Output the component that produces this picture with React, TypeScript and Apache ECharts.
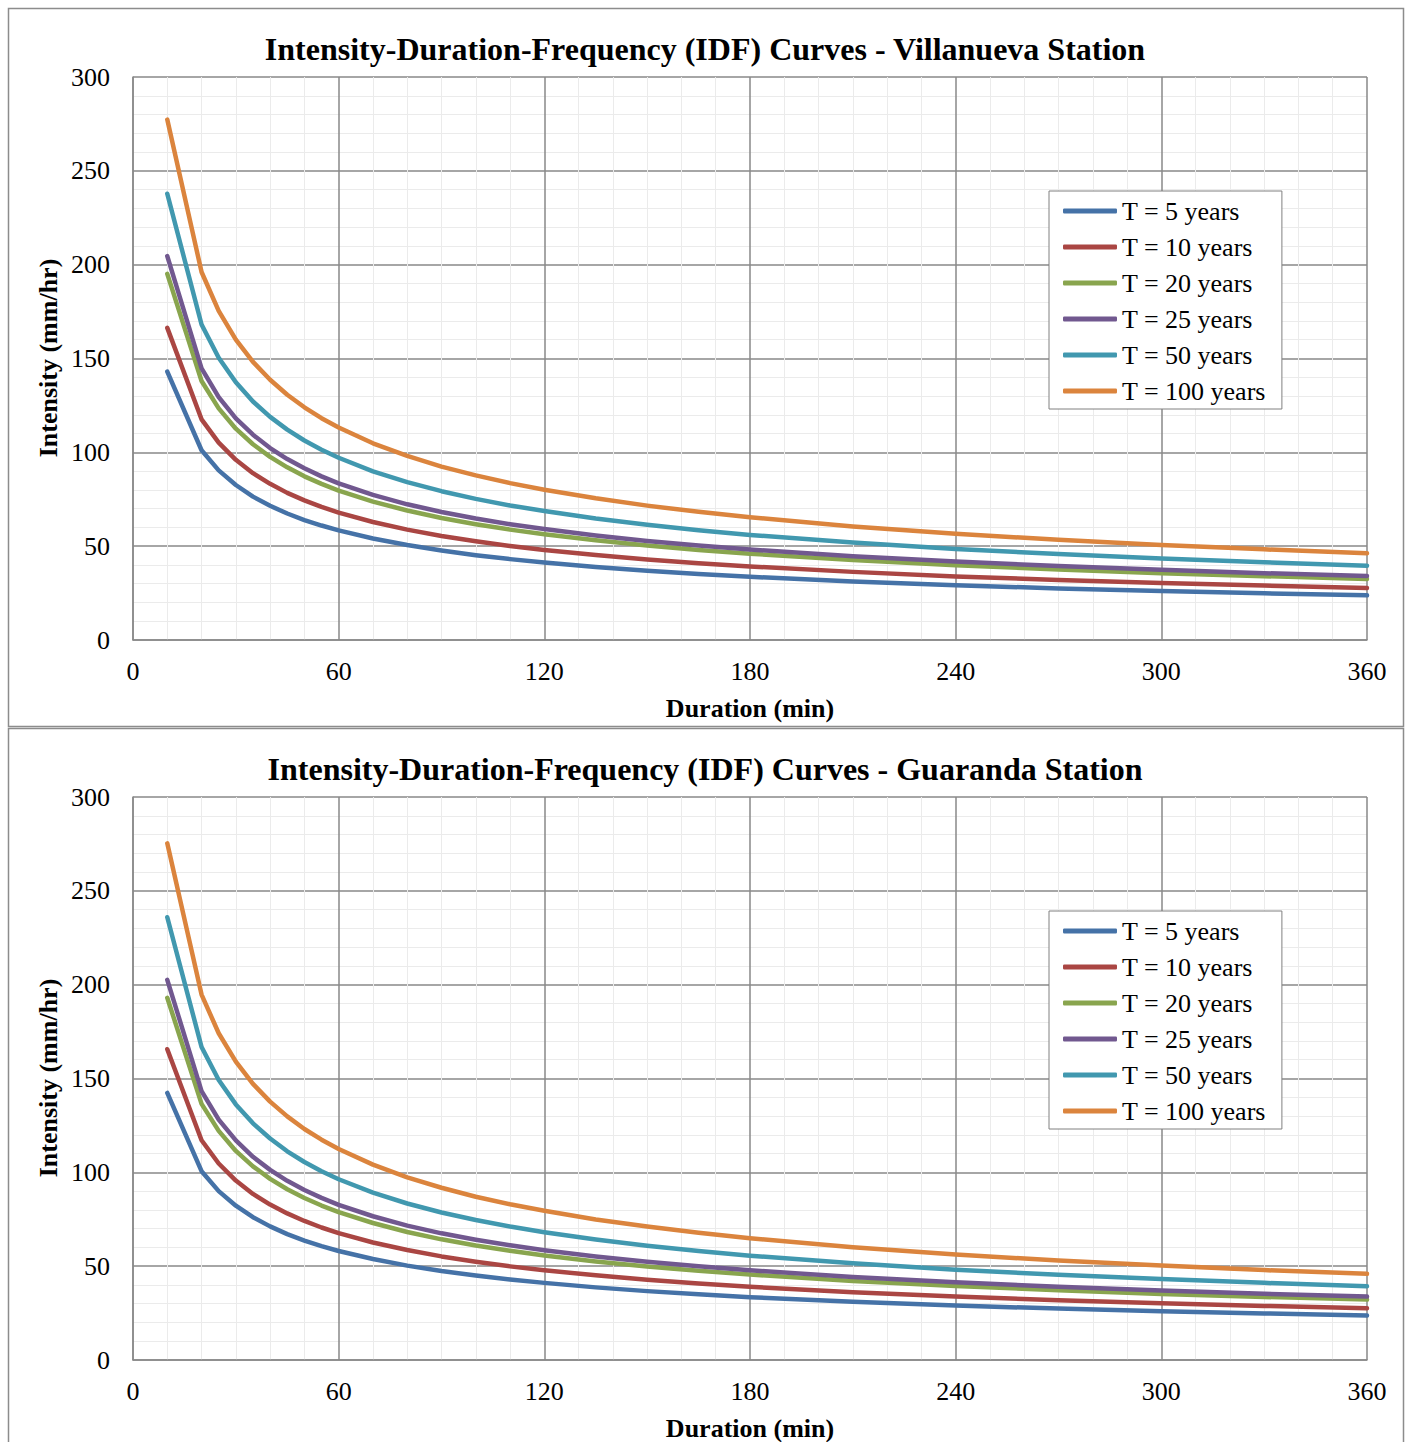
import React, { useEffect, useRef } from "react";
import * as echarts from "echarts";

const durations = [10, 20, 25, 30, 35, 40, 45, 50, 55, 60, 70, 80, 90, 100, 110, 120, 135, 150, 165, 180, 210, 240, 270, 300, 330, 360];
const seriesNames = ["T = 5 years", "T = 10 years", "T = 20 years", "T = 25 years", "T = 50 years", "T = 100 years"];
const colors = ["#4572A7", "#AA4643", "#89A54E", "#71588F", "#4198AF", "#DB843D"];
const xTicks = [0, 60, 120, 180, 240, 300, 360];
const yTicks = [0, 50, 100, 150, 200, 250, 300];

// Villanueva Station (mm/hr)
const villa5 = [143.0, 101.1, 90.4, 82.6, 76.4, 71.5, 67.4, 63.9, 61.0, 58.4, 54.1, 50.6, 47.7, 45.2, 43.1, 41.3, 38.9, 36.9, 35.2, 33.7, 31.2, 29.2, 27.5, 26.1, 24.9, 23.8];
const villa10 = [166.3, 117.6, 105.2, 96.0, 88.9, 83.2, 78.4, 74.4, 70.9, 67.9, 62.9, 58.8, 55.4, 52.6, 50.1, 48.0, 45.3, 42.9, 40.9, 39.2, 36.3, 33.9, 32.0, 30.4, 29.0, 27.7];
const villa20 = [195.1, 138.0, 123.4, 112.6, 104.3, 97.6, 92.0, 87.2, 83.2, 79.6, 73.7, 69.0, 65.0, 61.7, 58.8, 56.3, 53.1, 50.4, 48.0, 46.0, 42.6, 39.8, 37.6, 35.6, 34.0, 32.5];
const villa25 = [204.6, 144.7, 129.4, 118.1, 109.4, 102.3, 96.4, 91.5, 87.2, 83.5, 77.3, 72.3, 68.2, 64.7, 61.7, 59.1, 55.7, 52.8, 50.4, 48.2, 44.6, 41.8, 39.4, 37.4, 35.6, 34.1];
const villa50 = [237.8, 168.1, 150.4, 137.3, 127.1, 118.9, 112.1, 106.3, 101.4, 97.1, 89.9, 84.1, 79.3, 75.2, 71.7, 68.7, 64.7, 61.4, 58.5, 56.0, 51.9, 48.5, 45.8, 43.4, 41.4, 39.6];
const villa100 = [277.3, 196.1, 175.4, 160.1, 148.2, 138.7, 130.7, 124.0, 118.2, 113.2, 104.8, 98.1, 92.4, 87.7, 83.6, 80.1, 75.5, 71.6, 68.3, 65.4, 60.5, 56.6, 53.4, 50.6, 48.3, 46.2];

// Guaranda Station (mm/hr)
const guar5 = [142.3, 100.6, 90.0, 82.2, 76.1, 71.2, 67.1, 63.6, 60.7, 58.1, 53.8, 50.3, 47.4, 45.0, 42.9, 41.1, 38.7, 36.7, 35.0, 33.5, 31.1, 29.0, 27.4, 26.0, 24.8, 23.7];
const guar10 = [165.6, 117.1, 104.7, 95.6, 88.5, 82.8, 78.1, 74.1, 70.6, 67.6, 62.6, 58.6, 55.2, 52.4, 49.9, 47.8, 45.1, 42.8, 40.8, 39.0, 36.1, 33.8, 31.9, 30.2, 28.8, 27.6];
const guar20 = [193.0, 136.5, 122.1, 111.4, 103.2, 96.5, 91.0, 86.3, 82.3, 78.8, 73.0, 68.2, 64.3, 61.0, 58.2, 55.7, 52.5, 49.8, 47.5, 45.5, 42.1, 39.4, 37.2, 35.2, 33.6, 32.2];
const guar25 = [202.6, 143.3, 128.1, 117.0, 108.3, 101.3, 95.5, 90.6, 86.4, 82.7, 76.6, 71.6, 67.5, 64.1, 61.1, 58.5, 55.1, 52.3, 49.9, 47.8, 44.2, 41.4, 39.0, 37.0, 35.3, 33.8];
const guar50 = [235.9, 166.8, 149.2, 136.2, 126.1, 118.0, 111.2, 105.5, 100.6, 96.3, 89.2, 83.4, 78.6, 74.6, 71.1, 68.1, 64.2, 60.9, 58.1, 55.6, 51.5, 48.1, 45.4, 43.1, 41.1, 39.3];
const guar100 = [275.3, 194.7, 174.1, 159.0, 147.1, 137.7, 129.8, 123.1, 117.4, 112.4, 104.1, 97.3, 91.8, 87.0, 83.0, 79.5, 74.9, 71.1, 67.8, 64.9, 60.1, 56.2, 53.0, 50.3, 47.9, 45.9];

const villaSeries = [villa5, villa10, villa20, villa25, villa50, villa100];
const guarSeries = [guar5, guar10, guar20, guar25, guar50, guar100];

const titleTop = "Intensity-Duration-Frequency (IDF) Curves - Villanueva Station";
const titleBottom = "Intensity-Duration-Frequency (IDF) Curves - Guaranda Station";
const xName = "Duration (min)";
const yName = "Intensity (mm/hr)";

const FONT = '"Liberation Serif", "Times New Roman", serif';
const MAJOR = "#898989";
const MINOR = "#ebebeb";

export default function App() {
  const ref = useRef<HTMLDivElement>(null);

  useEffect(() => {
    if (!ref.current) return;
    const chart = echarts.init(ref.current, null, { renderer: "svg" });

    const panels = [
      { top: 77, title: titleTop, data: villaSeries, legendTop: 191, offset: 0 },
      { top: 797, title: titleBottom, data: guarSeries, legendTop: 911, offset: 720 },
    ];

    const xAxis = panels.map((_, i) => ({
      type: "value",
      gridIndex: i,
      min: xTicks[0],
      max: xTicks[xTicks.length - 1],
      interval: xTicks[1] - xTicks[0],
      axisLine: { show: true, lineStyle: { color: MAJOR, width: 1.5 } },
      axisTick: { show: false },
      axisLabel: { fontSize: 26, color: "#000", fontFamily: FONT, margin: 18 },
      splitLine: { show: true, lineStyle: { color: MAJOR, width: 1.5 } },
      minorTick: { show: false, splitNumber: 6 },
      minorSplitLine: { show: true, lineStyle: { color: MINOR, width: 1 } },
    }));

    const yAxis = panels.map((_, i) => ({
      type: "value",
      gridIndex: i,
      min: yTicks[0],
      max: yTicks[yTicks.length - 1],
      interval: yTicks[1] - yTicks[0],
      axisLine: { show: true, lineStyle: { color: MAJOR, width: 1.5 } },
      axisTick: { show: false },
      axisLabel: { fontSize: 26, color: "#000", fontFamily: FONT, margin: 23 },
      splitLine: { show: true, lineStyle: { color: MAJOR, width: 1.5 } },
      minorTick: { show: false, splitNumber: 5 },
      minorSplitLine: { show: true, lineStyle: { color: MINOR, width: 1 } },
    }));

    const series: any[] = [];
    panels.forEach((p, gi) => {
      p.data.forEach((vals, si) => {
        series.push({
          type: "line",
          name: seriesNames[si],
          xAxisIndex: gi,
          yAxisIndex: gi,
          data: durations.map((d, k) => [d, vals[k]]),
          symbol: "none",
          smooth: false,
          color: colors[si],
          lineStyle: { width: 4.5, color: colors[si], cap: "round", join: "round" },
          z: 3,
        });
      });
    });

    const legend = panels.map((p) => ({
      orient: "vertical",
      left: 1049,
      top: p.legendTop,
      data: seriesNames,
      icon: "roundRect",
      itemWidth: 54,
      itemHeight: 5,
      itemGap: 6,
      padding: [5, 16, 3, 14],
      backgroundColor: "#fff",
      borderColor: "#808080",
      borderWidth: 1,
      selectedMode: false,
      textStyle: { fontSize: 26, fontFamily: FONT, color: "#000", lineHeight: 30 },
    }));

    const graphic: any[] = [];
    panels.forEach((p) => {
      graphic.push({
        type: "rect",
        shape: { x: 8.5, y: 8.5 + p.offset, width: 1395, height: p.offset === 0 ? 718 : 740 },
        style: { fill: "none", stroke: "#8c8c8c", lineWidth: 1.5 },
        silent: true,
        z: 0,
      });
      graphic.push({
        type: "text",
        x: 705,
        y: 49 + p.offset,
        style: {
          text: p.title,
          font: `bold 32px ${FONT}`,
          fill: "#000",
          textAlign: "center",
          textVerticalAlign: "middle",
        },
      });
      graphic.push({
        type: "text",
        x: 750,
        y: 708 + p.offset,
        style: {
          text: xName,
          font: `bold 26px ${FONT}`,
          fill: "#000",
          textAlign: "center",
          textVerticalAlign: "middle",
        },
      });
      graphic.push({
        type: "text",
        x: 48,
        y: 358 + p.offset,
        rotation: Math.PI / 2,
        style: {
          text: yName,
          font: `bold 26px ${FONT}`,
          fill: "#000",
          textAlign: "center",
          textVerticalAlign: "middle",
        },
      });
    });

    chart.setOption({
      animation: false,
      backgroundColor: "#fff",
      grid: panels.map((p) => ({ left: 133, top: p.top, width: 1234, height: 563 })),
      xAxis,
      yAxis,
      legend,
      series,
      graphic,
    });

    return () => chart.dispose();
  }, []);

  return (
    <div
      ref={ref}
      style={{ position: "absolute", left: 0, top: 0, width: 1410, height: 1442, background: "#fff" }}
    />
  );
}
